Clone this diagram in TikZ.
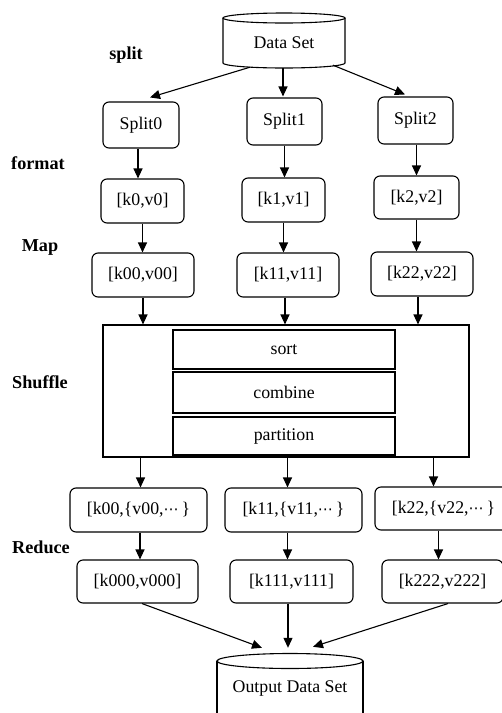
\documentclass[tikz,border=0pt]{standalone}
\usepackage{fontspec}
\setmainfont{Liberation Serif}
\newfontfamily\dejafont{DejaVu Sans}
\newcommand{\mydots}{{\dejafont\fontsize{15}{15}\selectfont ⋯}}
\usetikzlibrary{arrows.meta,calc}
\begin{document}
\begin{tikzpicture}[x=1pt,y=-1pt,
  every node/.style={font=\fontsize{17.8}{20}\selectfont},
  rbox/.style={draw, line width=1.1pt, rounded corners=6pt, inner sep=0pt},
  sbox/.style={draw, line width=1.1pt, inner sep=0pt},
  lbl/.style={font=\fontsize{18.2}{20}\selectfont\bfseries},
  arr/.style={line width=1.1pt, -{Triangle[length=10pt,width=9pt]}},
  cyl/.style={line width=1.1pt}]
\useasboundingbox (0,0) rectangle (502,713);
% Data Set cylinder
\node[minimum width=122pt, minimum height=55pt, inner sep=0pt] (ds) at (284,40.5) {};
\node at (284,43) {Data Set};
\draw[cyl] (284,18) ellipse [x radius=61, y radius=5];
\draw[cyl] (223,18) -- (223,63) arc[start angle=180, end angle=360, x radius=61, y radius=-5] -- (345,18);
% left labels
\node[lbl] (lsplit) at (126,55) {split};
\node[lbl] (lformat) at (38,163) {format};
\node[lbl] (lmap) at (40,247) {Map};
\node[lbl] (lshuffle) at (40,382) {Shuffle};
\node[lbl] (lreduce) at (41,547) {Reduce};
% splits
\node[rbox, minimum width=76pt, minimum height=46pt] (s0) at (141,125) {Split0};
\node[rbox, minimum width=75pt, minimum height=47pt] (s1) at (284.5,121.5) {Split1};
\node[rbox, minimum width=75pt, minimum height=47pt] (s2) at (415.5,120.5) {Split2};
% format
\node[rbox, minimum width=83pt, minimum height=44pt] (f0) at (142.5,201) {[k0,v0]};
\node[rbox, minimum width=83pt, minimum height=44pt] (f1) at (283.5,200) {[k1,v1]};
\node[rbox, minimum width=85pt, minimum height=43pt] (f2) at (416.5,197.5) {[k2,v2]};
% map
\node[rbox, minimum width=102pt, minimum height=44pt] (m0) at (143,275) {[k00,v00]};
\node[rbox, minimum width=102pt, minimum height=44pt] (m1) at (288,275) {[k11,v11]};
\node[rbox, minimum width=102pt, minimum height=44pt] (m2) at (422,274) {[k22,v22]};
% shuffle
\node[sbox, minimum width=366pt, minimum height=132pt] (sh) at (286,391) {};
\node[sbox, minimum width=222pt, minimum height=39pt] (sort) at (284,349.5) {sort};
\node[sbox, minimum width=222pt, minimum height=41pt] (comb) at (284,392.5) {combine};
\node[sbox, minimum width=222pt, minimum height=38pt] (part) at (284,436) {partition};
% grouped
\node[rbox, minimum width=137pt, minimum height=44pt] (r0) at (138.5,510) {[k00,\{v00,\mydots\,\}};
\node[rbox, minimum width=137pt, minimum height=44pt] (r1) at (293.5,510) {[k11,\{v11,\mydots\,\}};
\node[rbox, minimum width=137pt, minimum height=43pt] (r2) at (443.5,508.5) {[k22,\{v22,\mydots\,\}};
% reduce
\node[rbox, minimum width=121pt, minimum height=43pt] (d0) at (137.5,581.5) {[k000,v000]};
\node[rbox, minimum width=123pt, minimum height=43pt] (d1) at (291.5,581.5) {[k111,v111]};
\node[rbox, minimum width=121pt, minimum height=43pt] (d2) at (442.5,581.5) {[k222,v222]};
% output cylinder
\node[minimum width=146pt, minimum height=70pt, inner sep=0pt] (out) at (290,688) {};
\node at (290,688) {Output Data Set};
\draw[cyl] (290,661) ellipse [x radius=73, y radius=7.5];
\draw[cyl] (217,661) -- (217,716);
\draw[cyl] (363,661) -- (363,716);
% helper coordinates
\coordinate (a0) at ($(s0.south)+(-3,0)$);
\coordinate (a2) at ($(s2.south)+(1,0)$);
\coordinate (b1) at ($(m1.south)+(-3,0)$);
\coordinate (b2) at ($(m2.south)+(-4,0)$);
\coordinate (c0) at ($(r0.north)+(2,0)$);
\coordinate (c1) at ($(r1.north)+(-6,0)$);
\coordinate (c2) at ($(r2.north)+(-10,0)$);
\coordinate (e0) at ($(r0.south)+(1.5,0)$);
\coordinate (e1) at ($(r1.south)+(-6,0)$);
\coordinate (e2) at ($(r2.south)+(-5,0)$);
\coordinate (g1) at ($(d1.south)+(-3.5,0)$);
\coordinate (o1) at ($(out.north)+(0,-5)$);
% arrows
\draw[arr] ($(ds.south)+(-34,-1)$) -- ($(s0.north)+(9,-4)$);
\draw[arr] ($(ds.south)+(-1,0)$) -- ($(s1.north)+(-1.5,-1)$);
\draw[arr] ($(ds.south)+(49,-3)$) -- ($(s2.north)+(-10.5,-2)$);
\draw[arr] (a0) -- (a0 |- f0.north);
\draw[arr] (s1.south) -- (s1.south |- f1.north);
\draw[arr] (a2) -- (a2 |- f2.north);
\draw[arr] (f0.south) -- (f0.south |- m0.north);
\draw[arr] (f1.south) -- (f1.south |- m1.north);
\draw[arr] (f2.south) -- (f2.south |- m2.north);
\draw[arr] (m0.south) -- (m0.south |- sh.north);
\draw[arr] (b1) -- (b1 |- sh.north);
\draw[arr] (b2) -- (b2 |- sh.north);
\draw[arr] (c0 |- sh.south) -- (c0);
\draw[arr] (c1 |- sh.south) -- (c1);
\draw[arr] (c2 |- sh.south) -- (c2);
\draw[arr] (e0) -- (e0 |- d0.north);
\draw[arr] (e1) -- (e1 |- d1.north);
\draw[arr] (e2) -- (e2 |- d2.north);
\draw[arr] ($(d0.south)+(4.5,0)$) -- ($(out.north)+(-28,-5)$);
\draw[arr] (g1) -- (g1 |- o1);
\draw[arr] ($(d2.south)+(5.5,0)$) -- ($(out.north)+(23,-6)$);
\end{tikzpicture}
\end{document}
